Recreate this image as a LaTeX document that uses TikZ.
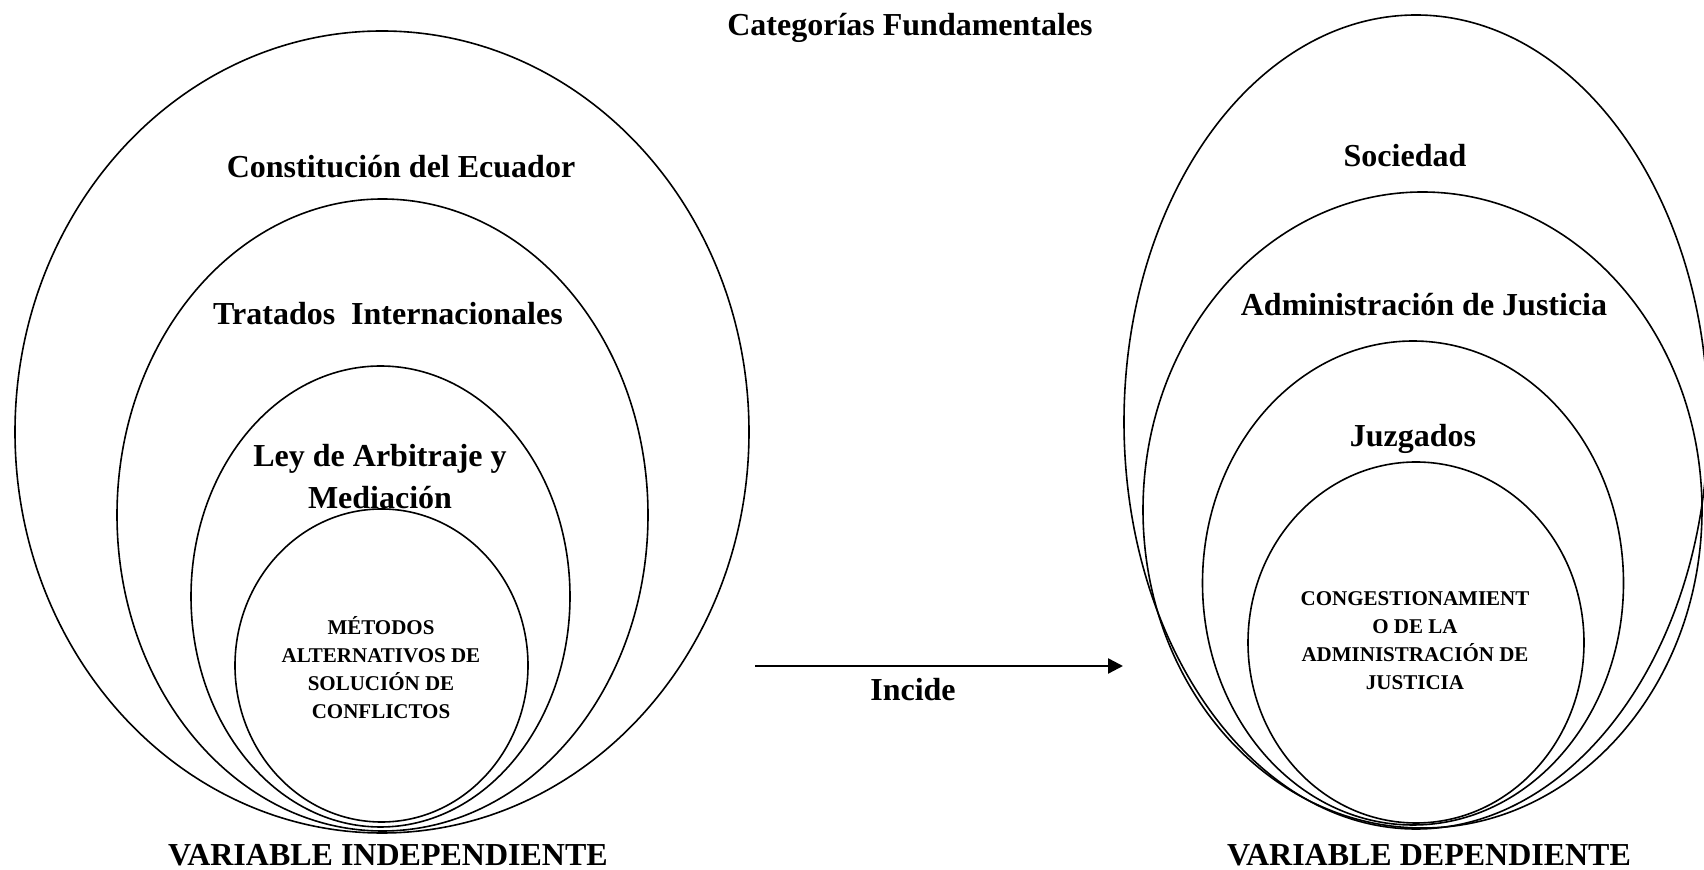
\documentclass[tikz,border=0pt]{standalone}
\usepackage{fontspec}
\setmainfont{Liberation Serif}
\usetikzlibrary{arrows.meta}
\tikzset{ring/.style={draw, line width=0.8pt},
    lbl/.style={font=\fontsize{16}{21}\selectfont\bfseries, align=center, inner sep=0pt},
    caps/.style={font=\fontsize{10.5}{14}\selectfont\bfseries, align=center, inner sep=0pt}}

\begin{document}
\begin{tikzpicture}[x=0.5pt, y=-0.5pt]
    \useasboundingbox (0,0) rectangle (1704,870);

    % variable independiente
    \foreach \cx/\cy/\rx/\ry in {382/432/367/401, 382.5/515/265.5/316, 380.5/596.5/189.5/230.5, 381.5/665.5/146.5/156.5}
        \draw [ring] (\cx,\cy) ellipse [x radius=\rx, y radius=\ry];

    % variable dependiente
    \foreach \cx/\cy/\rx/\ry in {1416/422/292/407, 1422.5/510/279.5/318, 1413/583/210.5/242, 1416/642.5/168/180.5}
        \draw [ring] (\cx,\cy) ellipse [x radius=\rx, y radius=\ry];

    \node [lbl] (title) at (910,28) {Categorías Fundamentales};

    \node [lbl] (constitucion) at (401,167) {Constitución del Ecuador};
    \node [lbl] (tratados) at (388,314) {Tratados\ \ Internacionales};
    \node [lbl] (ley) at (380,477) {Ley de Arbitraje y\\Mediación};
    \node [caps] (metodos) at (381,668) {MÉTODOS\\ALTERNATIVOS DE\\SOLUCIÓN DE\\CONFLICTOS};
    \node [lbl] (vi) at (388,855) {VARIABLE INDEPENDIENTE};

    \node [lbl] (sociedad) at (1405,156) {Sociedad};
    \node [lbl] (justicia) at (1424,305) {Administración de Justicia};
    \node [lbl] (juzgados) at (1413,439) {Juzgados};
    \node [caps] (congestion) at (1415,641) {CONGESTIONAMIENT\\O DE LA\\ADMINISTRACIÓN DE\\JUSTICIA};
    \node [lbl] (vd) at (1429,855) {VARIABLE DEPENDIENTE};

    \coordinate (from) at (755,666);
    \coordinate (to) at (1123,666);
    \draw [line width=1.2pt, -{Triangle[length=7.5pt, width=7.5pt]}] (from) -- (to);
    \node [lbl] (incide) at (913,690) {Incide};

\end{tikzpicture}
\end{document}
